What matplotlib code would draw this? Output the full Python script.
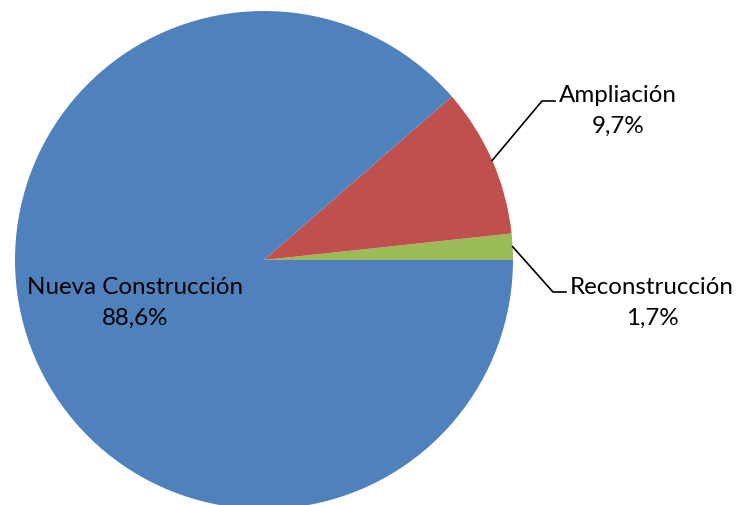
import matplotlib.pyplot as plt
import numpy as np

# data
labels = ["Reconstrucción", "Ampliación", "Nueva Construcción"]
shares = [1.7, 9.7, 88.6]
colors = ["#9BBB59", "#C0504D", "#4F81BD"]

W, H = 737, 506
fig = plt.figure(figsize=(W / 100, H / 100), dpi=100)
ax = fig.add_axes([0, 0, 1, 1])

cx, cy, r = 264, H - 261, 249
wedges, _ = ax.pie(shares, colors=colors, startangle=0, counterclock=True,
                   center=(cx, cy), radius=r, frame=True,
                   wedgeprops=dict(linewidth=0))
ax.set_xlim(0, W)
ax.set_ylim(0, H)
ax.set_aspect("equal")
ax.axis("off")

font = dict(family=["Lato", "DejaVu Sans"], fontsize=17.4, color="black",
            ha="center", va="center", linespacing=1.58)


def fmt(v):
    return f"{v:.1f}%".replace(".", ",")


# outside labels with leader lines: (elbow x, elbow y, label end x, text x, text y)
outside = {
    "Ampliación": (542, 102, 555, 618, 111),
    "Reconstrucción": (553, 293, 566, 652, 303),
}

for w, lab, v in zip(wedges, labels, shares):
    if lab in outside:
        ex, ey, hx, tx, ty = outside[lab]
        mid = np.deg2rad((w.theta1 + w.theta2) / 2)
        sx, sy = cx + r * np.cos(mid), cy + r * np.sin(mid)
        ax.plot([sx, ex, hx], [sy, H - ey, H - ey], color="black", lw=1.2,
                solid_joinstyle="miter", clip_on=False)
        ax.text(tx, H - ty, f"{lab}\n{fmt(v)}", **font)
    else:
        ax.text(135, H - 303, f"{lab}\n{fmt(v)}", **font)

fig.savefig("out.png", dpi=100, facecolor="white")
